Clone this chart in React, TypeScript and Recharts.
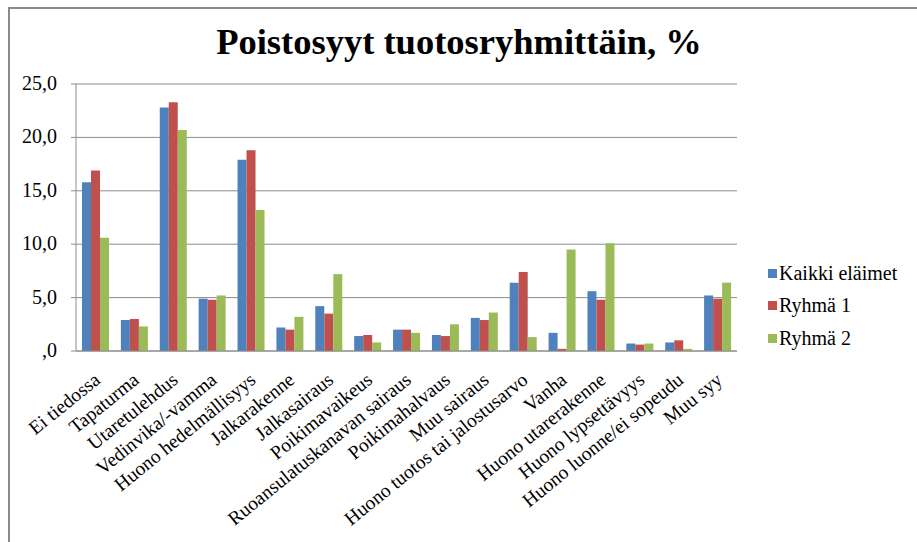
import { BarChart, Bar, XAxis, YAxis, CartesianGrid } from 'recharts'

const categories = [
  'Ei tiedossa',
  'Tapaturma',
  'Utaretulehdus',
  'Vedinvika/-vamma',
  'Huono hedelmällisyys',
  'Jalkarakenne',
  'Jalkasairaus',
  'Poikimavaikeus',
  'Ruoansulatuskanavan sairaus',
  'Poikimahalvaus',
  'Muu sairaus',
  'Huono tuotos tai jalostusarvo',
  'Vanha',
  'Huono utarerakenne',
  'Huono lypsettävyys',
  'Huono luonne/ei sopeudu',
  'Muu syy',
]

const kaikki = [15.8, 2.9, 22.8, 4.9, 17.9, 2.2, 4.2, 1.4, 2.0, 1.5, 3.1, 6.4, 1.7, 5.6, 0.7, 0.8, 5.2]
const ryhma1 = [16.9, 3.0, 23.3, 4.8, 18.8, 2.0, 3.5, 1.5, 2.0, 1.4, 2.9, 7.4, 0.2, 4.8, 0.6, 1.0, 4.9]
const ryhma2 = [10.6, 2.3, 20.7, 5.2, 13.2, 3.2, 7.2, 0.8, 1.7, 2.5, 3.6, 1.3, 9.5, 10.1, 0.7, 0.2, 6.4]

const yTicks = [0, 5, 10, 15, 20, 25]

const series = [
  { key: 'kaikki', name: 'Kaikki eläimet', color: '#4F81BD' },
  { key: 'ryhma1', name: 'Ryhmä 1', color: '#C0504D' },
  { key: 'ryhma2', name: 'Ryhmä 2', color: '#9BBB59' },
]

const data = categories.map((name, i) => ({
  name,
  kaikki: kaikki[i],
  ryhma1: ryhma1[i],
  ryhma2: ryhma2[i],
}))

const FONT = '"Liberation Serif", "Times New Roman", serif'
const GRID = '#8c8c8c'

function fmt(v: number) {
  if (v === 0) return ',0'
  return v.toFixed(1).replace('.', ',')
}

function XTick({ x, y, payload }: any) {
  return (
    <g transform={`translate(${x + 6},${y + 23})`}>
      <text textAnchor="end" transform="rotate(-39)" fontFamily={FONT} fontSize={19.5} fill="#000">
        {payload.value}
      </text>
    </g>
  )
}

function YTick({ x, y, payload }: any) {
  return (
    <text x={x} y={y} dy={6} textAnchor="end" fontFamily={FONT} fontSize={20} fill="#000">
      {fmt(payload.value)}
    </text>
  )
}

export default function App() {
  return (
    <div
      style={{
        position: 'absolute',
        left: 0,
        top: 0,
        width: 917,
        height: 542,
        overflow: 'hidden',
        background: '#fff',
        fontFamily: FONT,
      }}
    >
      <div
        style={{
          position: 'absolute',
          left: 8,
          top: 7,
          width: 1000,
          height: 1000,
          border: '2px solid #8a8a8a',
        }}
      />
      <div
        style={{
          position: 'absolute',
          left: 459,
          top: 20,
          transform: 'translateX(-50%)',
          whiteSpace: 'nowrap',
          fontWeight: 'bold',
          fontSize: 36.5,
          lineHeight: '44px',
        }}
      >
        Poistosyyt tuotosryhmittäin, %
      </div>
      <div style={{ position: 'absolute', left: 0, top: 0 }}>
        <BarChart
          width={917}
          height={542}
          data={data}
          margin={{ top: 84, right: 180, bottom: 1, left: 16 }}
          barCategoryGap="15%"
          barGap={0}
          style={{ fontFamily: FONT }}
        >
          <CartesianGrid vertical={false} stroke={GRID} strokeWidth={1} />
          <XAxis
            dataKey="name"
            interval={0}
            height={190}
            tickLine={false}
            axisLine={{ stroke: GRID }}
            tick={<XTick />}
          />
          <YAxis
            width={60}
            domain={[0, 25]}
            ticks={yTicks}
            tickSize={5}
            tickMargin={14}
            axisLine={{ stroke: GRID }}
            tickLine={{ stroke: GRID }}
            tick={<YTick />}
          />
          {series.map((s) => (
            <Bar key={s.key} dataKey={s.key} name={s.name} fill={s.color} barSize={9} isAnimationActive={false} />
          ))}
        </BarChart>
      </div>
      <div style={{ position: 'absolute', left: 768, top: 257, fontSize: 20, color: '#000' }}>
        {series.map((s) => (
          <div key={s.key} style={{ display: 'flex', alignItems: 'center', height: 32.5 }}>
            <span style={{ width: 9, height: 9, background: s.color, marginRight: 2 }} />
            <span>{s.name}</span>
          </div>
        ))}
      </div>
    </div>
  )
}
